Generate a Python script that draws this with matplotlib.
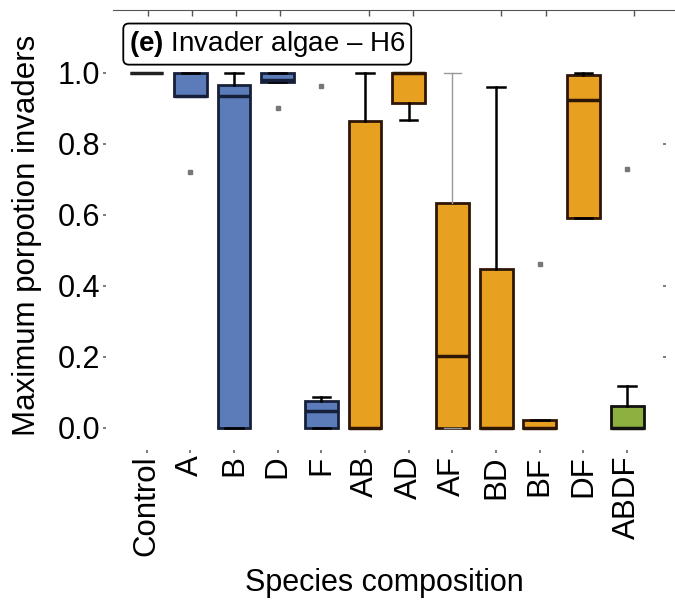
import matplotlib
matplotlib.use('Agg')
import matplotlib.pyplot as plt

### data
categories = ['Control', 'A', 'B', 'D', 'F', 'AB', 'AD', 'AF', 'BD', 'BF', 'DF', 'ABDF']
groups = ['none', 'single', 'single', 'single', 'single', 'pair', 'pair', 'pair', 'pair', 'pair', 'pair', 'four']
medians = [1.0, 0.935, 0.935, 0.98, 0.048, 0.0, 1.0, 0.203, 0.0, 0.0, 0.924, 0.0]
q1 = [1.0, 0.935, 0.0, 0.975, 0.0, 0.0, 0.915, 0.0, 0.0, 0.0, 0.59, 0.0]
q3 = [1.0, 1.0, 0.965, 1.0, 0.076, 0.865, 1.0, 0.633, 0.449, 0.022, 0.995, 0.062]
whis_lo = [1.0, 0.935, 0.0, 0.975, 0.0, 0.0, 0.867, 0.0, 0.0, 0.0, 0.59, 0.0]
whis_hi = [1.0, 1.0, 1.0, 1.0, 0.088, 1.0, 1.0, 1.0, 0.96, 0.022, 1.0, 0.118]
outliers = [[], [0.72], [], [0.90], [0.963], [], [], [], [], [0.463], [], [0.73]]
yticks = [0.0, 0.2, 0.4, 0.6, 0.8, 1.0]
right_ticks = [0.2, 0.4, 0.8]
top_ticks = [0, 1, 2, 3, 5, 6, 8, 9, 11]

### style
fill = {'none': '#ffffff', 'single': '#5b7cb8', 'pair': '#e8a020', 'four': '#8db040'}
edge = {'none': '#222222', 'single': '#16203a', 'pair': '#2e1606', 'four': '#111111'}

plt.rcParams['font.family'] = ['Liberation Sans', 'DejaVu Sans']
plt.rcParams['mathtext.fontset'] = 'custom'
plt.rcParams['mathtext.bf'] = 'Liberation Sans:bold'
plt.rcParams['mathtext.rm'] = 'Liberation Sans'

fig = plt.figure(figsize=(6.75, 6.03), dpi=100)
ax = fig.add_axes([106/675, 153/603, 557/675, 430/603])

stats = []
for i in range(len(categories)):
    stats.append({'med': medians[i], 'q1': q1[i], 'q3': q3[i],
                  'whislo': whis_lo[i], 'whishi': whis_hi[i],
                  'fliers': outliers[i], 'label': categories[i]})

pos = list(range(len(categories)))
bp = ax.bxp(stats, positions=pos, widths=0.75, capwidths=0.4, patch_artist=True,
            boxprops=dict(linewidth=2),
            medianprops=dict(linewidth=2.5),
            whiskerprops=dict(linewidth=1.8, color='black'),
            capprops=dict(linewidth=1.8, color='black'),
            flierprops=dict(marker='s', markersize=3, markerfacecolor='#777777',
                            markeredgecolor='#777777'))

for i, g in enumerate(groups):
    bp['boxes'][i].set_facecolor(fill[g])
    bp['boxes'][i].set_edgecolor(edge[g])
    bp['medians'][i].set_color(edge[g])
# AF whisker is drawn thin and grey
for w in bp['whiskers'][14:16] + bp['caps'][14:16]:
    w.set_color('#999999')
    w.set_linewidth(1.0)

ax.set_xlim(-0.93, 11.82)
ax.set_ylim(-0.062, 1.149)
ax.set_xticks(pos)
ax.set_xticklabels(categories, rotation=90, fontsize=22.5)
ax.set_yticks(yticks)
ax.set_yticklabels(['%.1f' % t for t in yticks], fontsize=22)
ax.tick_params(axis='both', length=2, width=1.2, color='#666666', pad=2)
for sp in ax.spines.values():
    sp.set_visible(False)

ax.set_ylabel('Maximum porpotion invaders', fontsize=22.5)
ax.yaxis.set_label_coords(-0.115, 0.5)
ax.set_xlabel('Species composition', fontsize=22)
ax.xaxis.set_label_coords(0.5, -0.274)

ax.text(0.041, 0.944, r'$\mathbf{(e)}$ Invader algae – H6', transform=ax.transAxes,
        fontsize=20, ha='left', va='center',
        bbox=dict(boxstyle='round,pad=0.2', facecolor='white', edgecolor='black', linewidth=1.3))

# right side ticks
ax2 = ax.twinx()
ax2.set_ylim(ax.get_ylim())
ax2.set_yticks(right_ticks)
ax2.set_yticklabels([])
ax2.tick_params(axis='y', length=2, width=1.2, color='#666666')
for sp in ax2.spines.values():
    sp.set_visible(False)

# axis line of the panel above, cut at the top
axt = fig.add_axes([113/675, 1 - 10/603, (675 - 113)/675, 0.004])
axt.set_xlim(-0.79, 11.93)
axt.set_xticks(top_ticks)
axt.set_xticklabels([])
axt.set_yticks([])
axt.tick_params(axis='x', length=4, width=1, color='#555555')
for k in ['top', 'left', 'right']:
    axt.spines[k].set_visible(False)
axt.spines['bottom'].set_color('#555555')
axt.patch.set_alpha(0)

fig.savefig('out.png', dpi=100)
